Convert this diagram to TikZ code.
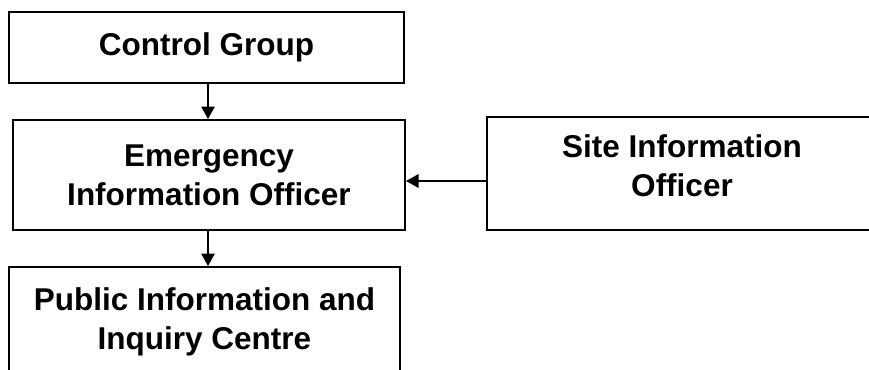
\documentclass[tikz,border=0pt]{standalone}
\usepackage{fontspec}
\setmainfont{Liberation Sans}
\usetikzlibrary{arrows.meta}
\begin{document}
\begin{tikzpicture}[x=1pt,y=-1pt,
  box/.style={draw=black, line width=2pt, rectangle, inner sep=0pt, align=center,
    font=\bfseries\fontsize{31.5}{39}\selectfont},
  lbl/.style={inner sep=0pt, align=center, font=\bfseries\fontsize{31.5}{39}\selectfont},
  link/.style={draw=black, line width=1.5pt, -{Triangle[length=12.5pt,width=13.5pt]}}]
\useasboundingbox (0,0) rectangle (869,369);
\clip (0,0) rectangle (869,369);
\node[box, minimum width=395pt, minimum height=71pt] (cg) at (206.5,47.5) {Control Group};
\node[box, minimum width=392pt, minimum height=110pt] (eio) at (209,175) {Emergency\\Information Officer};
\node[box, minimum width=391pt, minimum height=110pt] (pic) at (204.5,322) {Public Information and\\Inquiry Centre};
\node[box, minimum width=393pt, minimum height=113pt] (sio) at (683.5,173.5) {};
\node[lbl] (siot) at (682,166) {Site Information\\Officer};
\coordinate (ax) at (208,0);
\coordinate (ay) at (0,181);
\draw[link] (cg.south -| ax) -- (eio.north -| ax);
\draw[link] (eio.south -| ax) -- (pic.north -| ax);
\draw[link] (sio.west |- ay) -- (eio.east |- ay);
\end{tikzpicture}
\end{document}
